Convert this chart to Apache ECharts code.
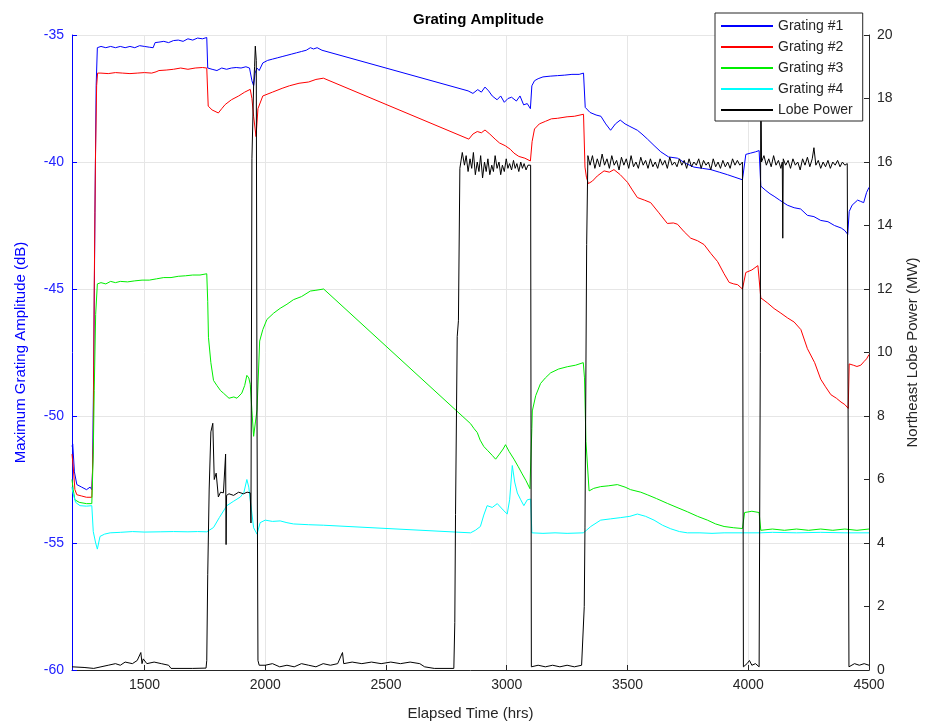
<!DOCTYPE html>
<html><head><meta charset="utf-8">
<script src="https://cdn.jsdelivr.net/npm/echarts@6/dist/echarts.min.js"></script>
<style>html,body{margin:0;padding:0;background:#fff}#c{width:925px;height:728px}</style>
</head><body><div id="c"></div>
<script>
const titleText = 'Grating Amplitude';
const seriesNames = ['Grating #1', 'Grating #2', 'Grating #3', 'Grating #4', 'Lobe Power'];
const xName = 'Elapsed Time (hrs)';
const yLeftName = 'Maximum Grating Amplitude (dB)';
const yRightName = 'Northeast Lobe Power (MW)';

const g1 = [[1200,-51.2],[1203,-51.1],[1210,-52.2],[1220,-52.7],[1240,-52.8],[1260,-52.9],[1275,-52.8],[1282,-52.9],[1285,-52.2],[1290,-48],[1295,-42],[1300,-37],[1305,-35.5],
[1320,-35.45],[1340,-35.5],[1360,-35.45],[1380,-35.5],[1400,-35.45],[1420,-35.5],[1440,-35.45],[1460,-35.5],[1480,-35.42],[1500,-35.45],[1520,-35.48],[1536,-35.5],[1544,-35.3],[1560,-35.28],[1580,-35.25],[1600,-35.3],[1620,-35.22],[1640,-35.2],[1660,-35.25],[1680,-35.15],[1700,-35.2],[1720,-35.12],[1740,-35.15],[1758,-35.1],
[1762,-36.3],[1780,-36.35],[1800,-36.4],[1820,-36.3],[1840,-36.35],[1860,-36.3],[1880,-36.28],[1900,-36.3],[1920,-36.25],[1935,-36.3],[1945,-36.8],[1952,-37.0],[1958,-36.5],[1966,-36.3],[1975,-36.4],[1990,-36.1],[2010,-36.0],[2030,-35.95],[2050,-35.9],[2070,-35.85],[2090,-35.8],[2110,-35.75],[2130,-35.7],[2150,-35.65],[2170,-35.6],[2187,-35.5],[2200,-35.55],[2215,-35.5],[2235,-35.6],
[2840,-37.2],[2860,-37.3],[2880,-37.15],[2895,-37.25],[2910,-37.05],[2925,-37.2],[2940,-37.4],[2960,-37.55],[2975,-37.4],[2990,-37.65],[3005,-37.5],[3020,-37.45],[3040,-37.6],[3055,-37.4],[3070,-37.75],[3085,-37.7],[3098,-37.9],
[3104,-37.0],[3115,-36.8],[3130,-36.72],[3150,-36.65],[3180,-36.62],[3210,-36.6],[3240,-36.58],[3270,-36.55],[3300,-36.55],[3318,-36.5],
[3325,-37.85],[3345,-38.05],[3370,-38.15],[3390,-38.2],[3410,-38.5],[3430,-38.75],[3450,-38.5],[3470,-38.35],[3490,-38.5],[3510,-38.6],[3541,-38.75],[3560,-38.9],[3583,-39.1],[3610,-39.35],[3638,-39.6],[3670,-39.8],[3707,-39.85],[3740,-40.05],[3775,-40.2],[3810,-40.25],[3845,-40.3],[3880,-40.4],[3914,-40.5],[3945,-40.6],[3976,-40.7],
[3990,-39.7],[4010,-39.65],[4030,-39.6],[4045,-39.55],[4052,-40.95],[4070,-41.1],[4090,-41.25],[4107,-41.35],[4130,-41.5],[4162,-41.7],[4190,-41.8],[4217,-41.85],[4245,-42.1],[4272,-42.15],[4300,-42.3],[4330,-42.35],[4357,-42.5],[4385,-42.6],[4400,-42.7],[4412,-42.85],
[4418,-41.95],[4430,-41.7],[4453,-41.5],[4465,-41.55],[4478,-41.6],[4490,-41.2],[4500,-41.0]];

const g2 = [[1200,-51.5],[1205,-52.0],[1212,-52.9],[1220,-53.1],[1240,-53.15],[1260,-53.2],[1282,-53.2],[1288,-51],[1292,-45],[1297,-40],[1302,-37],[1306,-36.5],
[1320,-36.5],[1350,-36.52],[1380,-36.48],[1410,-36.5],[1440,-36.52],[1470,-36.5],[1500,-36.48],[1530,-36.5],[1548,-36.45],[1560,-36.4],[1590,-36.38],[1620,-36.35],[1650,-36.3],[1680,-36.35],[1710,-36.3],[1740,-36.28],[1758,-36.3],
[1764,-37.8],[1780,-37.95],[1806,-38.07],[1820,-37.9],[1834,-37.74],[1860,-37.55],[1890,-37.4],[1915,-37.25],[1938,-37.14],[1945,-37.5],[1952,-38.2],[1962,-39.0],[1970,-37.9],[1990,-37.4],[2030,-37.25],[2070,-37.1],[2100,-37.0],[2140,-36.9],[2180,-36.85],[2210,-36.75],[2241,-36.7],
[2843,-39.1],[2860,-38.9],[2878,-38.8],[2895,-38.85],[2910,-38.74],[2930,-38.9],[2952,-39.1],[2970,-39.25],[2994,-39.36],[3015,-39.5],[3030,-39.65],[3050,-39.78],[3075,-39.85],[3098,-39.96],
[3105,-39.2],[3115,-38.7],[3135,-38.5],[3160,-38.4],[3185,-38.3],[3210,-38.28],[3250,-38.22],[3280,-38.2],[3318,-38.12],
[3324,-40.2],[3330,-40.6],[3338,-40.85],[3355,-40.75],[3375,-40.55],[3403,-40.35],[3425,-40.4],[3444,-40.3],[3470,-40.5],[3500,-40.8],[3520,-41.1],[3541,-41.4],[3570,-41.5],[3596,-41.6],[3630,-42.0],[3665,-42.42],[3690,-42.4],[3707,-42.45],[3735,-42.75],[3762,-43.0],[3790,-43.1],[3817,-43.25],[3845,-43.6],[3873,-43.92],[3900,-44.4],[3921,-44.74],[3940,-44.8],[3956,-44.83],[3976,-45.0],
[3990,-44.35],[4015,-44.25],[4040,-44.08],[4045,-44.05],[4052,-45.35],[4080,-45.55],[4107,-45.77],[4135,-45.95],[4163,-46.14],[4190,-46.3],[4218,-46.6],[4245,-47.35],[4275,-47.9],[4300,-48.55],[4320,-48.85],[4342,-49.16],[4365,-49.3],[4384,-49.45],[4400,-49.55],[4414,-49.7],
[4418,-47.95],[4435,-48.0],[4450,-48.05],[4466,-48.0],[4480,-47.85],[4490,-47.75],[4500,-47.58]];

const g3 = [[1200,-52.5],[1205,-52.9],[1212,-53.3],[1230,-53.4],[1260,-53.45],[1282,-53.45],[1288,-51.5],[1292,-49],[1298,-46],[1305,-44.8],[1320,-44.75],[1340,-44.8],[1360,-44.7],[1380,-44.75],[1400,-44.7],[1430,-44.72],[1460,-44.68],[1490,-44.65],[1520,-44.65],[1550,-44.6],[1580,-44.55],[1610,-44.55],[1640,-44.5],[1670,-44.48],[1700,-44.45],[1730,-44.45],[1758,-44.4],
[1762,-45.5],[1765,-46.9],[1775,-47.9],[1786,-48.6],[1800,-48.8],[1815,-49.0],[1827,-49.1],[1850,-49.3],[1870,-49.25],[1883,-49.3],[1903,-49.1],[1915,-48.8],[1924,-48.4],[1932,-48.5],[1938,-48.75],[1945,-49.8],[1952,-50.8],[1960,-50.2],[1966,-49.76],[1977,-47.05],[1990,-46.6],[2007,-46.2],[2035,-45.95],[2062,-45.76],[2090,-45.6],[2117,-45.42],[2150,-45.3],[2187,-45.08],[2210,-45.05],[2242,-45.0],
[2850,-50.3],[2865,-50.5],[2878,-50.65],[2890,-50.95],[2905,-51.2],[2920,-51.35],[2940,-51.55],[2954,-51.7],[2970,-51.5],[2985,-51.3],[2995,-51.13],[3010,-51.4],[3030,-51.7],[3048,-52.0],[3064,-52.28],[3080,-52.55],[3096,-52.86],
[3104,-50.5],[3106,-49.8],[3120,-49.2],[3140,-48.72],[3160,-48.5],[3182,-48.3],[3215,-48.15],[3251,-48.06],[3285,-48.0],[3317,-47.9],
[3322,-48.5],[3328,-51.0],[3341,-52.95],[3360,-52.85],[3389,-52.78],[3420,-52.75],[3458,-52.7],[3490,-52.8],[3513,-52.9],[3555,-53.0],[3582,-53.1],[3620,-53.25],[3665,-53.44],[3705,-53.6],[3748,-53.77],[3790,-53.95],[3831,-54.1],[3865,-54.25],[3900,-54.35],[3940,-54.4],[3976,-54.43],
[3985,-53.8],[4015,-53.75],[4045,-53.8],[4052,-54.5],[4100,-54.45],[4150,-54.5],[4200,-54.45],[4250,-54.5],[4300,-54.45],[4350,-54.5],[4400,-54.45],[4450,-54.5],[4500,-54.45]];

const g4 = [[1200,-52.8],[1203,-53.0],[1215,-53.4],[1233,-53.53],[1260,-53.55],[1282,-53.53],[1288,-54.55],[1298,-55.0],[1305,-55.24],[1316,-54.74],[1335,-54.65],[1358,-54.6],[1400,-54.58],[1450,-54.55],[1500,-54.57],[1565,-54.56],[1620,-54.55],[1680,-54.56],[1720,-54.55],[1758,-54.56],[1786,-54.39],[1810,-54.0],[1841,-53.53],[1870,-53.35],[1897,-53.19],[1912,-53.0],[1924,-52.5],[1932,-52.8],[1938,-53.3],[1952,-54.4],[1966,-54.65],[1979,-54.2],[2000,-54.1],[2030,-54.15],[2062,-54.13],[2090,-54.2],[2117,-54.25],[2180,-54.28],[2242,-54.3],
[2850,-54.6],[2870,-54.5],[2891,-54.35],[2905,-53.9],[2919,-53.53],[2940,-53.6],[2961,-53.45],[2985,-53.7],[3002,-53.86],[3012,-53.3],[3023,-51.95],[3033,-52.6],[3044,-53.03],[3058,-53.3],[3071,-53.53],[3085,-53.3],[3099,-53.27],
[3104,-54.6],[3150,-54.62],[3200,-54.6],[3250,-54.62],[3317,-54.6],
[3330,-54.5],[3348,-54.35],[3389,-54.1],[3430,-54.05],[3472,-54.0],[3510,-53.95],[3541,-53.86],[3575,-53.95],[3610,-54.1],[3645,-54.3],[3679,-54.44],[3715,-54.55],[3748,-54.6],[3800,-54.6],[3850,-54.62],[3900,-54.6],[3976,-54.6],[4050,-54.6],[4100,-54.58],[4200,-54.6],[4300,-54.58],[4400,-54.6],[4500,-54.6]];

const lobe = [[1200,0.1],[1250,0.08],[1290,0.05],[1320,0.1],[1350,0.15],[1380,0.2],[1400,0.15],[1420,0.25],[1450,0.2],[1470,0.3],[1485,0.55],[1490,0.2],[1495,0.35],[1510,0.2],[1540,0.25],[1570,0.2],[1600,0.15],[1610,0.05],[1700,0.05],[1755,0.06],
[1758,0.3],[1762,3.0],[1768,5.7],[1775,7.5],[1783,7.77],[1789,6.0],[1797,6.2],[1806,5.45],[1815,5.6],[1827,5.58],[1836,6.8],[1838,3.95],[1840,5.5],[1850,5.55],[1869,5.5],[1890,5.6],[1910,5.55],[1925,5.6],[1938,5.58],[1941,4.63],[1945,16.1],[1952,18.4],[1956,19.0],[1959,19.65],[1963,19.2],[1966,8.0],[1970,0.3],[1975,0.15],
[1980,0.2],[2000,0.15],[2030,0.2],[2060,0.1],[2090,0.15],[2120,0.1],[2150,0.2],[2180,0.15],[2210,0.1],[2240,0.2],[2270,0.15],[2300,0.2],[2320,0.55],[2325,0.2],[2360,0.25],[2400,0.2],[2440,0.25],[2480,0.2],[2520,0.25],[2560,0.2],[2600,0.25],[2640,0.2],[2660,0.1],[2700,0.05],[2781,0.05],
[2785,1.5],[2788,4.9],[2795,10.5],[2800,11.0],[2806,15.8],[2816,16.3],
[2825,15.9],[2832,16.2],[2840,15.7],[2848,16.1],[2855,15.8],[2862,16.3],[2870,15.6],[2878,16.0],[2885,15.7],[2892,16.2],[2900,15.5],[2908,16.0],[2915,15.7],[2922,16.1],[2930,15.6],[2938,15.9],[2945,15.7],[2952,16.2],[2960,15.8],[2968,16.0],[2975,15.6],[2982,15.9],[2990,15.7],[2998,16.1],[3005,15.8],[3012,15.95],[3020,15.75],[3028,16.05],[3035,15.8],[3042,15.95],[3050,15.7],[3058,16.0],[3065,15.8],[3072,15.95],[3080,15.75],[3088,15.9],[3095,15.85],[3099,15.9],
[3102,0.1],[3130,0.15],[3160,0.1],[3190,0.15],[3220,0.1],[3250,0.15],[3280,0.1],[3310,0.15],[3317,0.1],
[3321,2.0],[3324,4.5],[3331,13.4],[3336,16.2],
[3345,15.9],[3355,16.2],[3365,15.8],[3375,16.1],[3385,15.85],[3395,16.25],[3405,15.9],[3415,16.1],[3425,15.8],[3435,16.2],[3445,15.9],[3455,16.05],[3465,15.75],[3475,16.15],[3485,15.9],[3495,16.1],[3505,15.8],[3515,16.2],[3525,15.85],[3535,16.0],[3545,15.8],[3555,16.15],[3565,15.9],[3575,16.05],[3585,15.8],[3595,16.1],[3605,15.85],[3615,16.0],[3625,15.8],[3635,16.1],[3645,15.9],[3655,16.05],[3665,15.8],[3675,16.15],[3685,15.9],[3695,16.0],[3705,15.85],[3715,16.1],[3725,15.9],[3735,16.05],[3745,15.8],[3755,16.1],[3765,15.85],[3775,16.0],[3785,15.9],[3795,16.1],[3805,15.8],[3815,16.05],[3825,15.9],[3835,16.0],[3845,15.75],[3855,16.1],[3865,15.85],[3875,16.0],[3885,15.8],[3895,16.05],[3905,15.85],[3915,16.0],[3925,15.8],[3935,16.1],[3945,15.9],[3955,16.05],[3965,15.9],[3976,16.0],
[3980,0.1],[3995,0.2],[4005,0.3],[4015,0.15],[4030,0.2],[4045,0.1],
[4050,10],[4052,19.5],[4055,16.0],
[4065,16.2],[4075,15.9],[4085,16.1],[4095,15.85],[4105,16.2],[4115,15.9],[4125,16.05],[4135,15.8],[4141,16.0],[4143,13.6],[4145,16.1],[4155,15.9],[4165,16.05],[4175,15.8],[4185,16.1],[4195,15.9],[4205,16.0],[4215,15.75],[4225,16.1],[4235,15.9],[4245,16.15],[4255,15.85],[4265,16.1],[4272,16.45],[4280,15.9],[4290,16.05],[4300,15.8],[4310,16.0],[4320,15.85],[4330,16.05],[4340,15.8],[4350,16.0],[4360,15.9],[4370,16.05],[4380,15.85],[4390,16.0],[4400,15.9],[4410,15.95],[4414,15.9],
[4417,0.1],[4440,0.2],[4460,0.15],[4480,0.2],[4500,0.15]];

const colors = ['#0000ff', '#ff0000', '#00ee00', '#00ffff', '#000000'];
const dataSets = [g1, g2, g3, g4, lobe];
const FONT = '"Liberation Sans", Arial, sans-serif';
const TXT = '#262626';

const chart = echarts.init(document.getElementById('c'), null, {renderer: 'canvas'});
chart.setOption({
  animation: false,
  backgroundColor: '#ffffff',
  title: {
    text: titleText, left: 408, top: 7,
    textStyle: {fontFamily: FONT, fontSize: 15, fontWeight: 'bold', color: '#000'}
  },
  grid: {left: 72, right: 56, top: 35, bottom: 58, containLabel: false, outerBoundsMode: 'none'},
  legend: {
    data: seriesNames,
    orient: 'vertical', left: 715, top: 13, z: 20,
    backgroundColor: '#ffffff', borderColor: '#262626', borderWidth: 1,
    padding: [6, 10, 4, 5], itemGap: 7, itemWidth: 52, itemHeight: 14,
    itemStyle: {opacity: 0},
    selectedMode: false,
    textStyle: {fontFamily: FONT, fontSize: 14, color: TXT}
  },
  xAxis: {
    type: 'value', min: 1200, max: 4500,
    name: xName, nameLocation: 'middle', nameGap: 36,
    nameTextStyle: {fontFamily: FONT, fontSize: 15, color: TXT},
    axisLine: {onZero: false, lineStyle: {color: TXT, width: 1}},
    axisTick: {inside: true, length: 5, lineStyle: {color: TXT}},
    axisLabel: {showMinLabel: false, fontFamily: FONT, fontSize: 14, color: TXT, margin: 8,
      formatter: v => String(v)},
    splitLine: {show: true, lineStyle: {color: '#e6e6e6', width: 1}}
  },
  yAxis: [{
    type: 'value', min: -60, max: -35, interval: 5, position: 'left',
    name: yLeftName, nameLocation: 'middle', nameGap: 44,
    nameTextStyle: {fontFamily: FONT, fontSize: 15, color: '#0000ff'},
    axisLine: {show: true, lineStyle: {color: '#0000ff', width: 1}},
    axisTick: {show: true, inside: true, length: 5, lineStyle: {color: '#0000ff'}},
    axisLabel: {fontFamily: FONT, fontSize: 14, color: '#2222ff', margin: 8},
    splitLine: {show: true, lineStyle: {color: '#e6e6e6', width: 1}}
  }, {
    type: 'value', min: 0, max: 20, interval: 2, position: 'right',
    name: yRightName, nameLocation: 'middle', nameGap: 36, nameRotate: 90,
    nameTextStyle: {fontFamily: FONT, fontSize: 15, color: TXT},
    axisLine: {show: true, lineStyle: {color: TXT, width: 1}},
    axisTick: {show: true, inside: true, length: 5, lineStyle: {color: TXT}},
    axisLabel: {fontFamily: FONT, fontSize: 14, color: TXT, margin: 8},
    splitLine: {show: false}
  }],
  series: dataSets.map((d, i) => ({
    name: seriesNames[i], type: 'line', data: d,
    yAxisIndex: i === 4 ? 1 : 0,
    symbol: 'none', showSymbol: false,
    lineStyle: {color: colors[i], width: 1},
    itemStyle: {color: colors[i]},
    z: 2 + i
  }))
});
</script></body></html>
